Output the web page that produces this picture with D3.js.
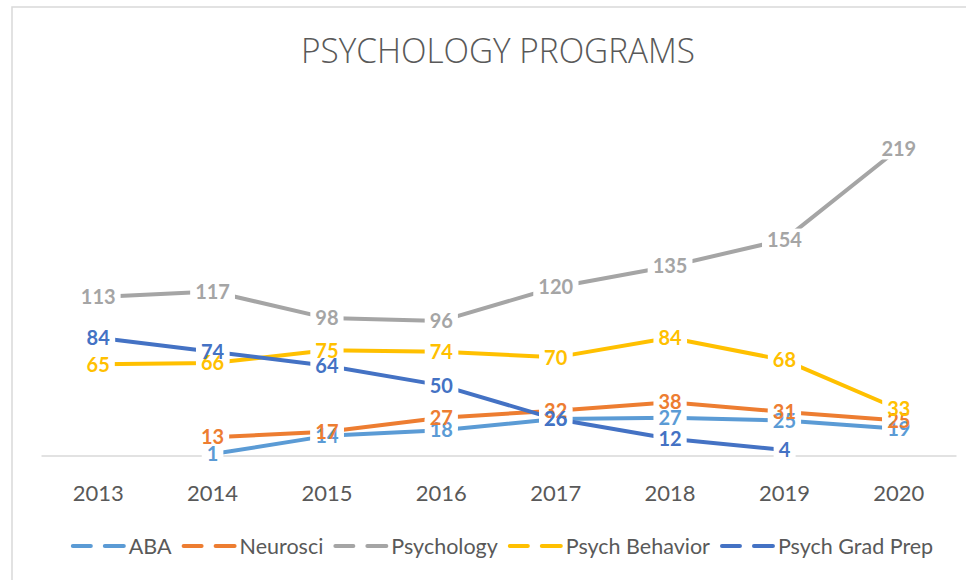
<!DOCTYPE html>
<html>
<head>
<meta charset="utf-8">
<script src="https://cdn.jsdelivr.net/npm/d3@7"></script>
<style>
  body { margin: 0; background: #fff; }
  svg { display: block; }
  .title { font-family: 'Open Sans', sans-serif; font-weight: 300; fill: #595959; }
  .tick-label { font-family: Lato, sans-serif; fill: #595959; }
  .data-label { font-family: Lato, sans-serif; font-weight: 700; }
  .legend-text { font-family: Lato, sans-serif; fill: #595959; }
</style>
</head>
<body>
<svg width="966" height="580"></svg>
<script>
// Data
let years = ['2013', '2014', '2015', '2016', '2017', '2018', '2019', '2020']

let aba = [null, 1, 14, 18, 26, 27, 25, 19]
let neurosci = [null, 13, 17, 27, 32, 38, 31, 25]
let psychology = [113, 117, 98, 96, 120, 135, 154, 219]
let psychBehavior = [65, 66, 75, 74, 70, 84, 68, 33]
let psychGradPrep = [84, 74, 64, 50, 26, 12, 4, null]

let seriesNames = ['ABA', 'Neurosci', 'Psychology', 'Psych Behavior', 'Psych Grad Prep']
let seriesValues = [aba, neurosci, psychology, psychBehavior, psychGradPrep]
let colors = ['#5B9BD5', '#ED7D31', '#A5A5A5', '#FFC000', '#4472C4']

let series = seriesNames.map((name, i) => ({
  name: name,
  color: colors[i],
  values: seriesValues[i].map((v, j) => ({ year: years[j], value: v }))
}))

let margin = { left: 41, right: 10, top: 105, bottom: 124.5 }
let width = 966, height = 580

let svg = d3.select('svg')

// Chart border
svg.append('rect')
  .attr('x', 12)
  .attr('y', 7)
  .attr('width', 1000)
  .attr('height', 1000)
  .attr('fill', 'white')
  .attr('stroke', '#d9d9d9')
  .attr('stroke-width', 1.5)

// Scales
let x = d3.scaleBand()
  .domain(years)
  .range([margin.left, width - margin.right])

let y = d3.scaleLinear()
  .domain([0, 250])
  .range([height - margin.bottom, margin.top])

let px = d => x(d.year) + x.bandwidth() / 2

// Category axis
let xAxis = d3.axisBottom(x).tickSize(0).tickPadding(30)
let axisG = svg.append('g')
  .attr('transform', `translate(0,${y(0)})`)
  .call(xAxis)
axisG.select('.domain')
  .attr('stroke', '#d9d9d9')
  .attr('stroke-width', 1.5)
axisG.selectAll('text')
  .attr('class', 'tick-label')
  .attr('font-size', 22)
  .attr('fill', '#595959')
  .attr('dy', '0.71em')

// Lines
let line = d3.line()
  .defined(d => d.value !== null)
  .x(px)
  .y(d => y(d.value))

svg.append('g')
  .selectAll('path')
  .data(series)
  .enter()
  .append('path')
  .attr('d', d => line(d.values))
  .attr('fill', 'none')
  .attr('stroke', d => d.color)
  .attr('stroke-width', 4)
  .attr('stroke-linecap', 'round')
  .attr('stroke-linejoin', 'round')

// Data labels: white boxes cut the lines, texts drawn on top of all boxes
let boxLayer = svg.append('g')
let textLayer = svg.append('g')

series.forEach(s => {
  s.values.filter(d => d.value !== null).forEach(d => {
    let t = textLayer.append('text')
      .attr('class', 'data-label')
      .attr('x', px(d))
      .attr('y', y(d.value))
      .attr('font-size', 20)
      .attr('fill', s.color)
      .attr('text-anchor', 'middle')
      .attr('dy', '0.36em')
      .text(d.value)
    let bb = t.node().getBBox()
    boxLayer.append('rect')
      .attr('x', bb.x - 5)
      .attr('y', y(d.value) - 11)
      .attr('width', bb.width + 10)
      .attr('height', 22)
      .attr('fill', 'white')
  })
})

// Chart Title
svg.append('text')
  .attr('class', 'title')
  .attr('x', 301)
  .attr('y', 63)
  .attr('font-size', 35)
  .attr('textLength', 394)
  .attr('lengthAdjust', 'spacingAndGlyphs')
  .text('PSYCHOLOGY PROGRAMS')

// Legend
let legend = svg.append('g')
let lx = 0
series.forEach(s => {
  let item = legend.append('g').attr('transform', `translate(${lx},0)`)
  item.append('line')
    .attr('x1', 2).attr('x2', 20)
    .attr('stroke', s.color).attr('stroke-width', 4).attr('stroke-linecap', 'round')
  item.append('line')
    .attr('x1', 34).attr('x2', 53)
    .attr('stroke', s.color).attr('stroke-width', 4).attr('stroke-linecap', 'round')
  let t = item.append('text')
    .attr('class', 'legend-text')
    .attr('x', 58)
    .attr('y', 7.5)
    .attr('font-size', 21.5)
    .text(s.name)
  lx += 58 + t.node().getComputedTextLength() + 10
})
let legW = lx - 10
legend.attr('transform', `translate(${502 - legW / 2},546)`)
</script>
</body>
</html>
